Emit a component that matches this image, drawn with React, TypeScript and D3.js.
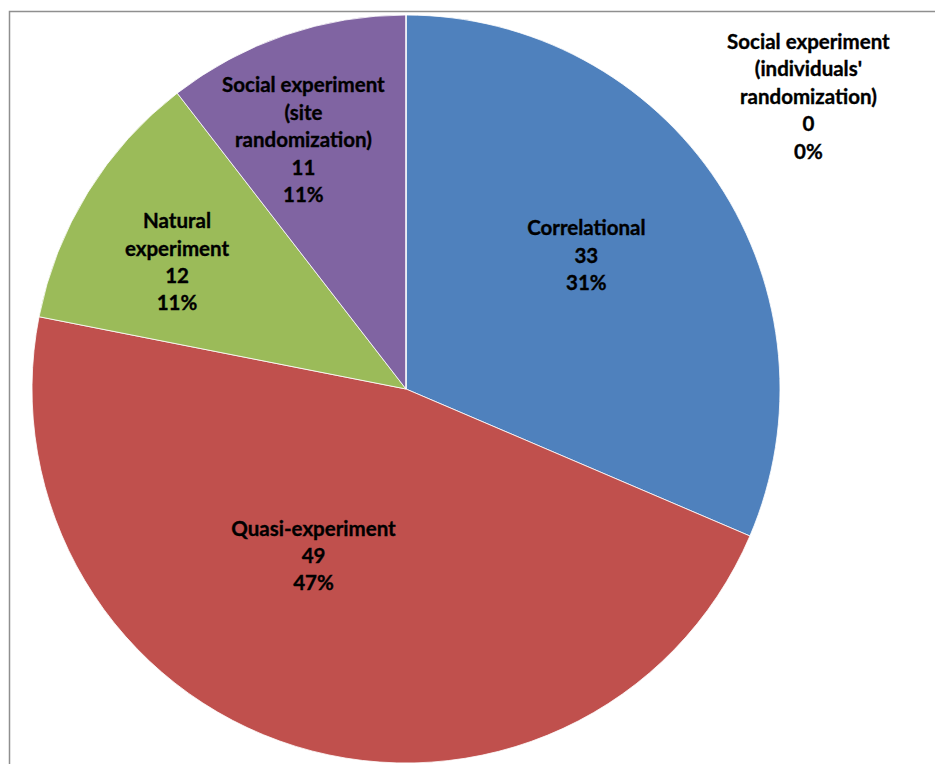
import React from "react";
import * as d3 from "d3";

const categories = [
  "Correlational",
  "Quasi-experiment",
  "Natural experiment",
  "Social experiment (site randomization)",
  "Social experiment (individuals' randomization)",
];
const values = [33, 49, 12, 11, 0];
const percentLabels = ["31%", "47%", "11%", "11%", "0%"];
const labelLines = [
  ["Correlational"],
  ["Quasi-experiment"],
  ["Natural", "experiment"],
  ["Social experiment", "(site", "randomization)"],
  ["Social experiment", "(individuals'", "randomization)"],
];
const colors = ["#4F81BD", "#C0504D", "#9BBB59", "#8064A2", "#4BACC6"];
// label placement: [angle in degrees clockwise from top, radius fraction]
const labelPlacement: [number, number][] = [
  [53.5, 0.6],
  [209, 0.51],
  [299, 0.7],
  [337.6, 0.72],
  [54, 1.33],
];

const W = 935;
const H = 764;
const cx = 406;
const cy = 389;
const R = 374;
const lineH = 27.4;

export default function App() {
  const pie = d3.pie<number>().sort(null).value((d) => d)(values);
  const arc = d3.arc<d3.PieArcDatum<number>>().innerRadius(0).outerRadius(R);
  return (
    <svg
      width={W}
      height={H}
      style={{ position: "absolute", left: 0, top: 0, background: "#fff" }}
    >
      <rect x={9.5} y={11.5} width={W + 20} height={H + 20} fill="#fff" stroke="#8f8f8f" strokeWidth={1.5} />
      <g transform={`translate(${cx},${cy})`}>
        {pie.map((p, i) => (
          <path key={i} d={arc(p) || ""} fill={colors[i]} stroke="#fff" strokeWidth={1} strokeOpacity={0.8} />
        ))}
        {pie.map((p, i) => {
          const [deg, rf] = labelPlacement[i];
          const a = (deg * Math.PI) / 180;
          const x = Math.sin(a) * R * rf;
          const y = -Math.cos(a) * R * rf;
          const lines = [...labelLines[i], String(values[i]), percentLabels[i]];
          const y0 = y - ((lines.length - 1) * lineH) / 2;
          return (
            <text
              key={i}
              textAnchor="middle"
              fontFamily="Lato, 'Open Sans', sans-serif"
              fontWeight="bold"
              fontSize={20.5}
              fill="#000"
              stroke="#000"
              strokeWidth={0.35}
            >
              {lines.map((l, j) => (
                <tspan key={j} x={x} y={y0 + j * lineH} dy="0.35em">
                  {l}
                </tspan>
              ))}
            </text>
          );
        })}
      </g>
    </svg>
  );
}
